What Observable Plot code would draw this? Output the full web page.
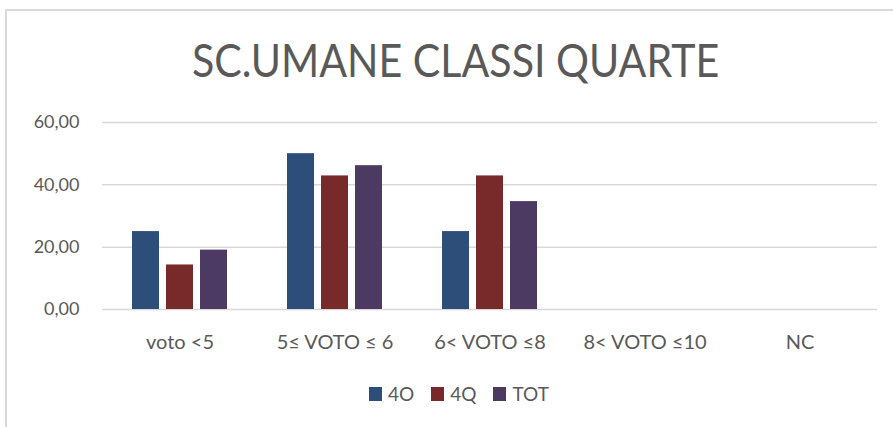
<!DOCTYPE html>
<html><head><meta charset="utf-8">
<script src="https://cdn.jsdelivr.net/npm/d3@7"></script>
<script src="https://cdn.jsdelivr.net/npm/@observablehq/plot@0.6"></script>
<style>
body{margin:0;background:#fff;font-family:Lato,sans-serif;color:#595959;}
#wrap{position:relative;width:893px;height:427px;overflow:hidden;background:#fff;}
#border{position:absolute;left:5px;top:9px;width:960px;height:500px;border-top:2px solid #d9d9d9;border-left:2px solid #d9d9d9;}
#title{position:absolute;left:5px;width:902px;top:37px;text-align:center;font-size:46px;line-height:1;white-space:nowrap;}
#title span{display:inline-block;transform:scaleX(0.895);transform-origin:center;}
#chart{position:absolute;left:0;top:100px;}
#legend{position:absolute;left:369px;top:384px;display:flex;align-items:center;font-size:19px;line-height:20px;}
#legend .item{display:flex;align-items:center;margin-right:17px;}
#legend .sw{width:13px;height:14px;margin-right:6px;}
</style></head>
<body>
<div id="wrap">
  <div id="border"></div>
  <div id="title"><span>SC.UMANE CLASSI QUARTE</span></div>
  <div id="chart"></div>
  <div id="legend"></div>
</div>
<script>
const categories = ["voto <5", "5≤ VOTO ≤ 6", "6< VOTO ≤8", "8< VOTO ≤10", "NC"];
const seriesNames = ["4O", "4Q", "TOT"];
const values4O  = [25, 50, 25, 0, 0];
const values4Q  = [14.29, 42.86, 42.86, 0, 0];
const valuesTOT = [19.05, 46.15, 34.62, 0, 0];
const yTicks = [0, 20, 40, 60];
const colors = ["#2d4e78", "#782a2b", "#4d3a62"];

const seriesValues = [values4O, values4Q, valuesTOT];
const data = [];
categories.forEach((c, i) => seriesNames.forEach((s, j) => data.push({cat: c, series: s, value: seriesValues[j][i]})));

const fmt = d => d.toFixed(2).replace(".", ",");

const plot = Plot.plot({
  width: 893,
  height: 260,
  marginLeft: 101,
  marginRight: 16,
  marginTop: 22,
  marginBottom: 51,
  style: {fontFamily: "Lato, sans-serif", fontSize: "18px", color: "#595959", background: "transparent", overflow: "visible"},
  fx: {domain: categories, padding: 0, label: null},
  x: {domain: seriesNames, paddingInner: 0.22, paddingOuter: 0.86, axis: null},
  y: {domain: [0, 60], label: null},
  color: {domain: seriesNames, range: colors},
  marks: [
    Plot.gridY(yTicks, {stroke: "#d9d9d9", strokeOpacity: 1, strokeWidth: 1.5}),
    Plot.barY(data, {fx: "cat", x: "series", y: "value", fill: "series"}),
    Plot.axisY(yTicks, {tickSize: 0, tickPadding: 23, tickFormat: fmt, label: null, fill: "#595959"}),
    Plot.axisFx({anchor: "bottom", tickSize: 0, tickPadding: 25, label: null, fill: "#595959", fontSize: 20})
  ]
});
document.getElementById("chart").appendChild(plot);

const color = plot.scale("color");
const leg = document.getElementById("legend");
seriesNames.forEach((s, i) => {
  const item = document.createElement("div");
  item.className = "item";
  const sw = document.createElement("div");
  sw.className = "sw";
  sw.style.background = color.range[i];
  const t = document.createElement("span");
  t.textContent = s;
  item.appendChild(sw); item.appendChild(t);
  leg.appendChild(item);
});
</script>
</body></html>
